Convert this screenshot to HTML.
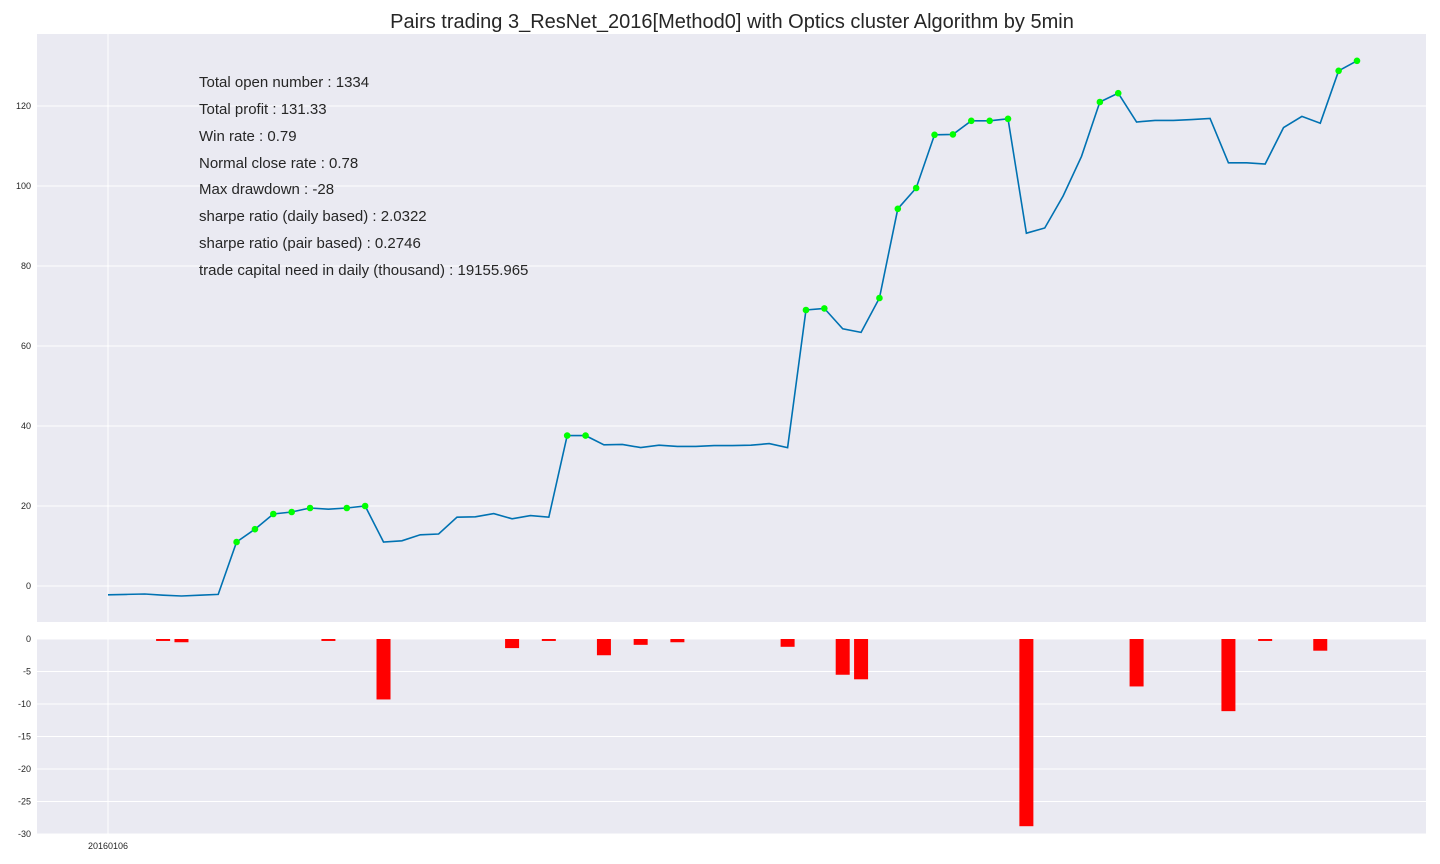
<!DOCTYPE html>
<html><head><meta charset="utf-8"><style>
html,body{margin:0;padding:0;background:#fff;}
svg{display:block;font-family:"Liberation Sans",sans-serif;}
</style></head><body>
<svg id="chart" width="1440" height="864">
<text x="732" y="28" text-anchor="middle" font-size="20" fill="#262626">Pairs trading 3_ResNet_2016[Method0] with Optics cluster Algorithm by 5min</text>
<rect x="37" y="34" width="1389" height="588" fill="#eaeaf2"/>
<rect x="37" y="639" width="1389" height="195" fill="#eaeaf2"/>
<g id="grid"></g>
<g id="marks"></g>
<g id="stats" font-size="15" fill="#262626">
<text x="199" y="87">Total open number : 1334</text>
<text x="199" y="114">Total profit : 131.33</text>
<text x="199" y="141">Win rate : 0.79</text>
<text x="199" y="168">Normal close rate : 0.78</text>
<text x="199" y="194">Max drawdown : -28</text>
<text x="199" y="221">sharpe ratio (daily based) : 2.0322</text>
<text x="199" y="248">sharpe ratio (pair based) : 0.2746</text>
<text x="199" y="275">trade capital need in daily (thousand) : 19155.965</text>
</g>
</svg>
<script>
const profit=[-2.2,-2.1,-2.0,-2.3,-2.5,-2.3,-2.1,11,14.2,18,18.5,19.5,19.2,19.5,20,11,11.3,12.8,13,17.2,17.3,18.1,16.8,17.6,17.2,37.6,37.6,35.3,35.4,34.6,35.2,34.9,34.9,35.1,35.1,35.2,35.6,34.6,69,69.4,64.3,63.4,72,94.3,99.5,112.8,112.9,116.3,116.3,116.8,88.2,89.5,97.5,107.4,121,123.2,116,116.4,116.4,116.6,116.9,105.8,105.8,105.5,114.6,117.4,115.7,128.8,131.3];
const markIdx=[7,8,9,10,11,13,14,25,26,38,39,42,43,44,45,46,47,48,49,54,55,67,68];
const barIdx=[3,4,12,15,22,24,27,29,31,37,40,41,50,56,61,63,66];
const barVals=[-0.3,-0.5,-0.3,-9.3,-1.4,-0.3,-2.5,-0.9,-0.5,-1.2,-5.5,-6.2,-28.8,-7.3,-11.1,-0.3,-1.8];
const topTicks=[0,20,40,60,80,100,120];
const botTicks=[0,-5,-10,-15,-20,-25,-30];
const xLabels=["20160106"];
const NS="http://www.w3.org/2000/svg";
const X=i=>108+i*(1357-108)/68;
const Y=v=>586-v*4;
function YB2(v){return 639+(-v)*6.5;}
function mk(t,a,p){const e=document.createElementNS(NS,t);for(const k in a)e.setAttribute(k,a[k]);p.appendChild(e);return e;}
const grid=document.getElementById('grid'),marks=document.getElementById('marks');
topTicks.forEach(v=>{
 const l=mk('line',{x1:37,x2:1426,y1:Y(v),y2:Y(v),stroke:'#fff','stroke-width':1},grid);
 
 
 const t=mk('text',{x:31,y:Y(v)+3,'text-anchor':'end','font-size':9,fill:'#262626'},grid);t.textContent=v;
 
 
});
botTicks.forEach(v=>{
 const l=mk('line',{x1:37,x2:1426,y1:YB2(v),y2:YB2(v),stroke:'#fff','stroke-width':1},grid);
 
 
 const t=mk('text',{x:31,y:YB2(v)+3,'text-anchor':'end','font-size':9,fill:'#262626'},grid);t.textContent=v;
 
 
});
[[34,622],[639,834]].forEach(r=>{
 const l=mk('line',{x1:X(0),x2:X(0),y1:r[0],y2:r[1],stroke:'#fff','stroke-width':1},grid);
 
 
});
const xl=mk('text',{x:X(0),y:849,'text-anchor':'middle','font-size':9,fill:'#262626'},grid);xl.textContent=xLabels[0];


const pl=mk('polyline',{points:profit.map((v,i)=>X(i)+','+Y(v)).join(' '),fill:'none',stroke:'#0072b2','stroke-width':1.6},marks);


markIdx.forEach(i=>{
 const c=mk('circle',{cx:X(i),cy:Y(profit[i]),r:3.3,fill:'#00ff00'},marks);
 
 
});
barIdx.forEach((i,k)=>{
 const v=barVals[k];
 const b=mk('rect',{x:X(i)-7,y:639,width:14,height:YB2(v)-639,fill:'#ff0000'},marks);
 
 
});
</script>
</body></html>
